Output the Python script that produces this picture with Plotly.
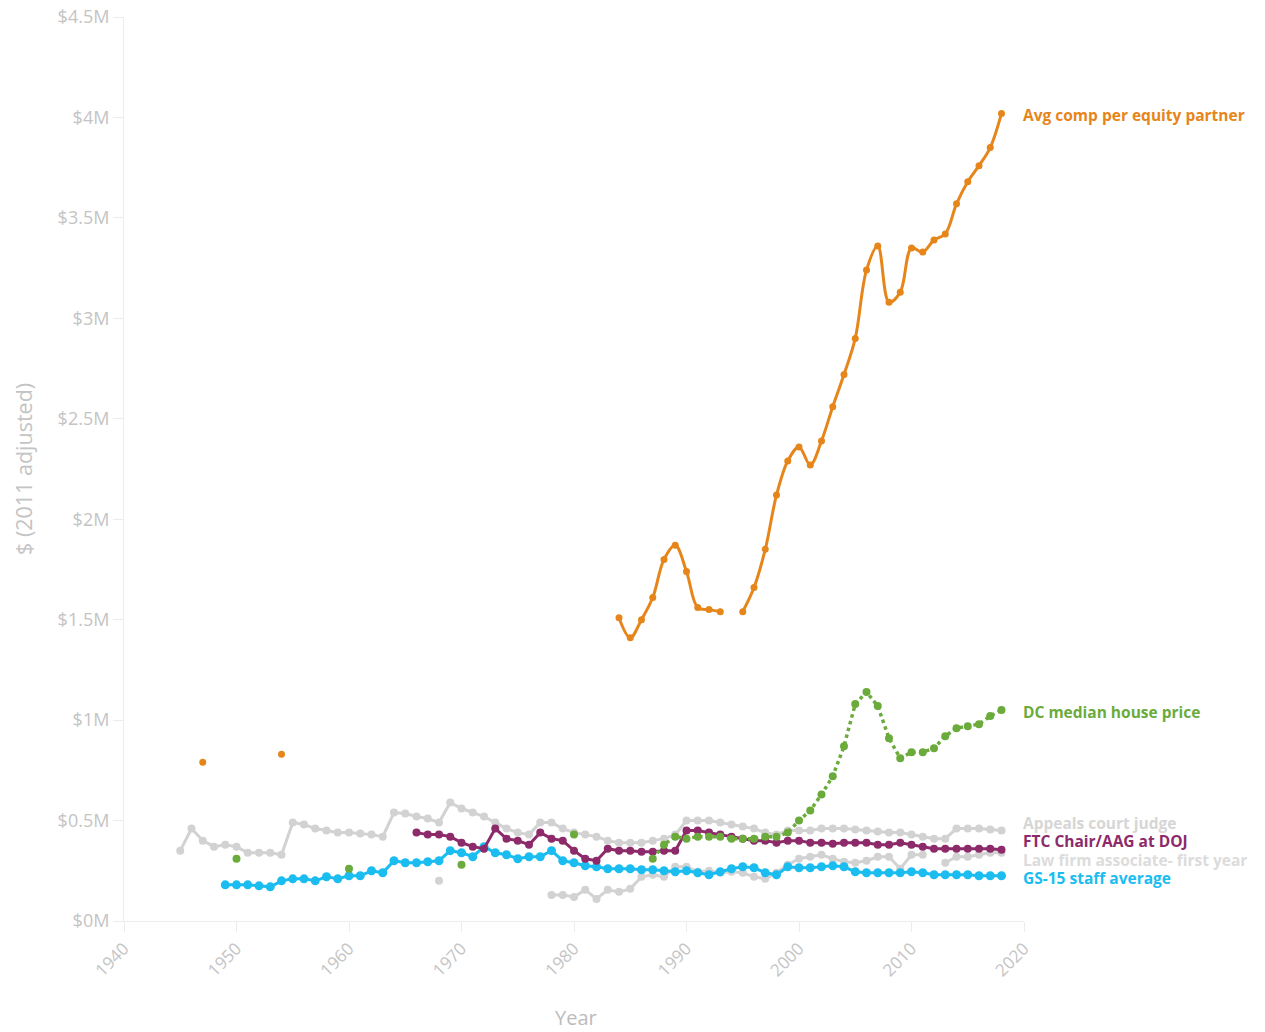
import plotly.graph_objects as go

# ---------------- data ($ millions, 2011 adjusted) ----------------
partner_years = [1947, 1948, 1954, 1955,
                 1984, 1985, 1986, 1987, 1988, 1989, 1990, 1991, 1992, 1993, 1994,
                 1995, 1996, 1997, 1998, 1999, 2000, 2001, 2002, 2003, 2004, 2005, 2006,
                 2007, 2008, 2009, 2010, 2011, 2012, 2013, 2014, 2015, 2016, 2017, 2018]
partner_vals = [0.79, None, 0.83, None,
                1.51, 1.41, 1.50, 1.61, 1.80, 1.87, 1.74, 1.56, 1.55, 1.54, None,
                1.54, 1.66, 1.85, 2.12, 2.29, 2.36, 2.27, 2.39, 2.56, 2.72, 2.90, 3.24,
                3.36, 3.08, 3.13, 3.35, 3.33, 3.39, 3.42, 3.57, 3.68, 3.76, 3.85, 4.02]

house_years = [1950, 1951, 1960, 1961, 1970, 1971, 1980, 1981,
               1987, 1988, 1989, 1990, 1991, 1992, 1993, 1994, 1995, 1996, 1997, 1998,
               1999, 2000, 2001, 2002, 2003, 2004, 2005, 2006, 2007, 2008, 2009, 2010,
               2011, 2012, 2013, 2014, 2015, 2016, 2017, 2018]
house_vals = [0.31, None, 0.26, None, 0.28, None, 0.43, None,
              0.31, 0.38, 0.42, 0.41, 0.42, 0.42, 0.42, 0.41, 0.41, 0.41, 0.42, 0.42,
              0.44, 0.50, 0.55, 0.63, 0.72, 0.87, 1.08, 1.14, 1.07, 0.91, 0.81, 0.84,
              0.84, 0.86, 0.92, 0.96, 0.97, 0.98, 1.02, 1.05]

judge_years = list(range(1945, 2019))
judge_vals = [0.35, 0.46, 0.40, 0.37, 0.38, 0.37, 0.34, 0.34, 0.34, 0.33,
              0.49, 0.48, 0.46, 0.45, 0.44, 0.44, 0.435, 0.43, 0.42, 0.54,
              0.535, 0.52, 0.51, 0.49, 0.59, 0.56, 0.54, 0.52, 0.49, 0.46,
              0.44, 0.43, 0.49, 0.49, 0.46, 0.44, 0.43, 0.42, 0.40, 0.39,
              0.39, 0.39, 0.40, 0.41, 0.43, 0.50, 0.50, 0.50, 0.49, 0.48,
              0.47, 0.46, 0.44, 0.43, 0.45, 0.45, 0.45, 0.46, 0.46, 0.46,
              0.455, 0.45, 0.445, 0.44, 0.44, 0.43, 0.42, 0.41, 0.41, 0.46,
              0.46, 0.46, 0.455, 0.45]

ftc_years = list(range(1966, 2019))
ftc_vals = [0.44, 0.43, 0.43, 0.42, 0.39, 0.37, 0.36, 0.46, 0.41, 0.40,
            0.38, 0.44, 0.41, 0.40, 0.35, 0.31, 0.30, 0.36, 0.35, 0.35,
            0.345, 0.345, 0.35, 0.35, 0.45, 0.45, 0.44, 0.43, 0.42, 0.41,
            0.40, 0.40, 0.39, 0.40, 0.40, 0.39, 0.39, 0.385, 0.39, 0.39,
            0.39, 0.38, 0.38, 0.39, 0.38, 0.37, 0.36, 0.36, 0.36, 0.36,
            0.36, 0.36, 0.355]

assoc_years = [1968, 1969] + list(range(1978, 2019))
assoc_vals = [0.20, None,
              0.13, 0.13, 0.12, 0.155, 0.11, 0.155, 0.145, 0.16, 0.22, 0.23,
              0.22, 0.27, 0.27, 0.245, 0.25, 0.24, 0.245, 0.24, 0.22, 0.21,
              0.24, 0.28, 0.31, 0.32, 0.33, 0.31, 0.295, 0.29, 0.30, 0.32,
              0.32, 0.26, 0.33, 0.33, None, 0.29, 0.32, 0.32, 0.33, 0.34, 0.34]

gs15_years = list(range(1949, 2019))
gs15_vals = [0.18, 0.18, 0.18, 0.175, 0.17, 0.20, 0.21, 0.21, 0.20, 0.22,
             0.21, 0.225, 0.225, 0.25, 0.24, 0.30, 0.29, 0.29, 0.295, 0.30,
             0.35, 0.34, 0.32, 0.37, 0.34, 0.33, 0.31, 0.32, 0.32, 0.35,
             0.30, 0.29, 0.275, 0.27, 0.26, 0.26, 0.26, 0.255, 0.255, 0.25,
             0.245, 0.25, 0.24, 0.23, 0.245, 0.26, 0.27, 0.265, 0.24, 0.23,
             0.27, 0.265, 0.265, 0.27, 0.275, 0.27, 0.245, 0.24, 0.24, 0.24,
             0.24, 0.245, 0.24, 0.23, 0.23, 0.23, 0.23, 0.225, 0.225, 0.225]

y_tick_vals = [0, 0.5, 1, 1.5, 2, 2.5, 3, 3.5, 4, 4.5]
y_tick_text = ["$0M", "$0.5M", "$1M", "$1.5M", "$2M", "$2.5M", "$3M", "$3.5M", "$4M", "$4.5M"]
x_tick_vals = [1940, 1950, 1960, 1970, 1980, 1990, 2000, 2010, 2020]

labels = ["Avg comp per equity partner", "DC median house price", "Appeals court judge",
          "FTC Chair/AAG at DOJ", "Law firm associate- first year", "GS-15 staff average"]

# ---------------- styles ----------------
C_ORANGE = "#e6861a"
C_GREEN = "#6bab3c"
C_GRAY = "#d2d2d2"
C_PURPLE = "#8c2a6a"
C_BLUE = "#1bbdf0"
FONT = "'Open Sans', sans-serif"

fig = go.Figure()

def add(xs, ys, color, name, width=3, size=8, dash="solid", shape="linear"):
    fig.add_trace(go.Scatter(
        x=xs, y=ys, name=name, mode="lines+markers",
        line=dict(color=color, width=width, dash=dash, shape=shape),
        marker=dict(color=color, size=size),
        connectgaps=False, hoverinfo="x+y+name"))

add(judge_years, judge_vals, C_GRAY, labels[2], width=3, size=8)
add(assoc_years, assoc_vals, C_GRAY, labels[4], width=3, size=8)
add(gs15_years, gs15_vals, C_BLUE, labels[5], width=3, size=9)
add(ftc_years, ftc_vals, C_PURPLE, labels[3], width=3, size=8)
add(house_years, house_vals, C_GREEN, labels[1], width=3.5, size=8, dash="dot")
add(partner_years, partner_vals, C_ORANGE, labels[0], width=3, size=7, shape="spline")

# end labels (staggered to avoid overlap)
label_y = [4.01, 1.04, 0.488, 0.398, 0.304, 0.214]
label_col = [C_ORANGE, C_GREEN, "#d6d6d6", C_PURPLE, "#dcdcdc", C_BLUE]
for txt, yv, col in zip(labels, label_y, label_col):
    fig.add_annotation(x=2018, y=yv, xref="x", yref="y", text="<b>" + txt + "</b>",
                       showarrow=False, xanchor="left", yanchor="middle", xshift=20,
                       borderpad=0, font=dict(family=FONT, size=15.5, color=col))

# axis titles
fig.add_annotation(xref="paper", yref="paper", x=0, y=0.5, xshift=-101,
                   text="$ (2011 adjusted)", textangle=-90, showarrow=False,
                   xanchor="center", yanchor="middle", borderpad=0,
                   font=dict(family=FONT, size=21.5, color="#c4c4c4"))
fig.add_annotation(xref="paper", yref="paper", x=0.502, y=0, yshift=-96,
                   text="Year", showarrow=False, xanchor="center", yanchor="middle",
                   borderpad=0,
                   font=dict(family=FONT, size=20, color="#bcbcbc"))

fig.update_layout(
    width=1265, height=1032,
    margin=dict(l=124, r=241, t=17, b=111, autoexpand=False),
    paper_bgcolor="white", plot_bgcolor="white",
    showlegend=False,
    font=dict(family=FONT, color="#bdbdbd"),
    xaxis=dict(range=[1940, 2020], tickvals=x_tick_vals, tickangle=-45,
               showgrid=False, zeroline=False, showline=True, linecolor="#ececec",
               linewidth=1, ticks="outside", tickcolor="#ececec", ticklen=10,
               automargin=False, ticklabeloverflow="allow",
               tickfont=dict(family=FONT, size=17, color="#c4c4c4")),
    yaxis=dict(range=[0, 4.5], tickvals=y_tick_vals, ticktext=y_tick_text,
               showgrid=False, zeroline=False, showline=True, linecolor="#ececec",
               linewidth=1, ticks="outside", tickcolor="#ececec", ticklen=10,
               automargin=False, ticklabeloverflow="allow",
               tickfont=dict(family=FONT, size=18, color="#c4c4c4")),
)

# place the figure flush with the page corner (no default body margin)
fig.write_html("out.html", config={"displayModeBar": False},
               post_script="document.body.style.margin='0';")
